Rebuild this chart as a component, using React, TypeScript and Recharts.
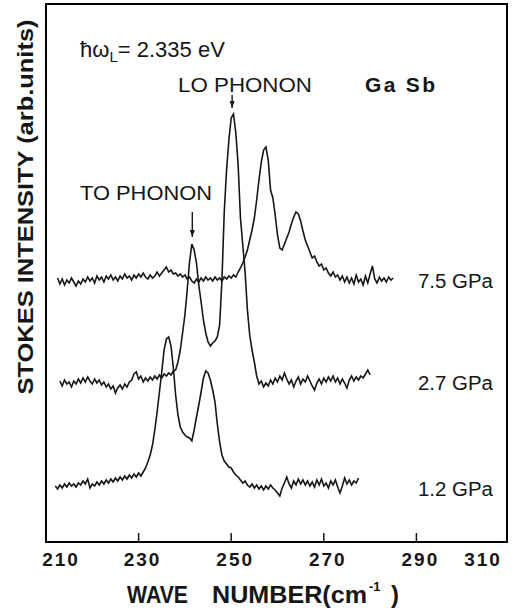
import { LineChart, Line, XAxis, YAxis, ReferenceLine } from "recharts";

// Stokes Raman spectra of GaSb at three pressures (arb. units, traces offset)
const step = 0.5;

const start75 = 212.5;
const intensity75 = [
  264, 258, 263, 257, 262, 259, 264, 260, 256, 261, 258, 263, 260, 265, 261, 264, 259, 266, 262, 265,
  260, 266, 263, 267, 262, 265, 261, 266, 263, 268, 264, 266, 262, 267, 264, 268, 265, 269, 265, 263,
  267, 264, 266, 270, 266, 269, 272, 275, 270, 272, 268, 269, 266, 268, 265, 267, 263, 265, 261, 259,
  263, 260, 264, 261, 265, 262, 264, 261, 265, 262, 264, 261, 265, 263, 266, 264, 267, 265, 270, 274,
  279, 285, 292, 302, 312, 324, 342, 362, 380, 392, 395, 382, 352, 344, 327, 307, 294, 292, 298, 304,
  310, 318, 325, 330, 328, 321, 311, 302, 296, 290, 284, 286, 280, 276, 278, 272, 274, 269, 266, 270,
  265, 267, 262, 266, 260, 265, 259, 264, 258, 267, 260, 263, 257, 266, 259, 268, 276, 263, 259, 265,
  261, 264, 260, 265, 262, 264,
];

const start27 = 213;
const intensity27 = [
  161, 156, 162, 158, 160, 155, 161, 158, 163, 159, 164, 160, 165, 161, 158, 163, 159, 162, 157, 160,
  155, 158, 153, 156, 149, 154, 157, 153, 158, 155, 160, 162, 168, 170, 163, 166, 160, 164, 161, 165,
  162, 166, 163, 167, 164, 168, 166, 169, 167, 171, 172, 180, 192, 209, 227, 252, 280, 298, 292, 279,
  257, 240, 222, 209, 200, 196, 199, 201, 205, 217, 262, 330, 372, 402, 424, 428, 409, 377, 324, 297,
  270, 232, 207, 192, 180, 166, 158, 161, 155, 159, 156, 162, 158, 164, 160, 166, 162, 169, 163, 158,
  162, 155, 161, 165, 158, 163, 160, 166, 161, 156, 152, 159, 163, 158, 164, 160, 165, 161, 166, 160,
  164, 158, 163, 159, 154, 162, 166, 161, 165, 162, 166, 164, 168, 172, 167,
];

const start12 = 212;
const intensity12 = [
  56, 53, 57, 54, 58, 55, 59, 56, 58, 55, 59, 57, 61, 58, 63, 54, 58, 56, 60, 57,
  61, 58, 62, 59, 63, 60, 64, 61, 65, 62, 66, 63, 67, 64, 68, 65, 69, 66, 70, 74,
  80, 87, 97, 112, 130, 150, 170, 192, 203, 205, 196, 174, 147, 127, 115, 110, 107, 105, 104, 101,
  112, 125, 137, 150, 164, 171, 169, 162, 152, 140, 118, 100, 87, 81, 78, 75, 74, 70, 67, 65,
  62, 59, 61, 57, 55, 58, 54, 57, 53, 56, 52, 56, 53, 57, 54, 52, 49, 46, 54, 59,
  65, 58, 54, 61, 57, 63, 58, 62, 57, 61, 56, 60, 55, 62, 57, 63, 56, 59, 54, 61,
  57, 62, 55, 49, 56, 64, 58, 62, 57, 61, 59, 64,
];

const xTicks = [210, 230, 250, 270, 290, 310];
const pressureLabels = ["7.5 GPa", "2.7 GPa", "1.2 GPa"];

// phonon markers: [wave number, arrow top, arrow tip]
const toArrow = [241.6, 330, 305];
const loArrow = [250.2, 447, 434];

const toSeries = (start: number, values: number[]) =>
  values.map((v, i) => ({ w: start + i * step, v }));

const data75 = toSeries(start75, intensity75);
const data27 = toSeries(start27, intensity27);
const data12 = toSeries(start12, intensity12);

const font = "'Liberation Sans', Arial, sans-serif";
const ink = "#161616";

const WaveTick = (props: any) => {
  const { x, y, payload } = props;
  const v = payload.value;
  const dx = v === 210 ? 15 : v === 310 ? -18 : 4;
  return (
    <g>
      {v !== 210 && v !== 310 && (
        <line x1={x} y1={y} x2={x} y2={y - 9} stroke={ink} strokeWidth={1.5} />
      )}
      <text
        x={x + dx}
        y={y + 24}
        textAnchor="middle"
        fontSize={19}
        fontFamily={font}
        fontWeight={600}
        letterSpacing={2}
        fill={ink}
      >
        {v}
      </text>
    </g>
  );
};

const Arrow = (props: any) => {
  const { x1, y1, x2, y2 } = props;
  return (
    <g>
      <line x1={x1} y1={y1} x2={x2} y2={y2} stroke={ink} strokeWidth={1.4} />
      <polygon points={`${x2 - 2.5},${y2 - 7} ${x2 + 2.5},${y2 - 7} ${x2},${y2}`} fill={ink} />
    </g>
  );
};

export default function App() {
  return (
    <div style={{ position: "absolute", left: 0, top: 0, width: 513, height: 613, background: "#fff" }}>
      <LineChart width={513} height={613} margin={{ top: 4, right: 4, left: 46, bottom: 31 }}>
        <XAxis
          type="number"
          dataKey="w"
          domain={[210, 310]}
          ticks={xTicks}
          allowDataOverflow
          height={40}
          tickSize={0}
          tickMargin={0}
          axisLine={false}
          tickLine={false}
          tick={<WaveTick />}
        />
        <YAxis type="number" dataKey="v" domain={[0, 538]} hide allowDataOverflow />
        <Line data={data75} dataKey="v" type="linear" stroke={ink} strokeWidth={1.6} dot={false} isAnimationActive={false} />
        <Line data={data27} dataKey="v" type="linear" stroke={ink} strokeWidth={1.6} dot={false} isAnimationActive={false} />
        <Line data={data12} dataKey="v" type="linear" stroke={ink} strokeWidth={1.6} dot={false} isAnimationActive={false} />
        <ReferenceLine
          segment={[{ x: toArrow[0], y: toArrow[1] }, { x: toArrow[0], y: toArrow[2] }]}
          shape={<Arrow />}
        />
        <ReferenceLine
          segment={[{ x: loArrow[0], y: loArrow[1] }, { x: loArrow[0], y: loArrow[2] }]}
          shape={<Arrow />}
        />
      </LineChart>
      <svg
        width={513}
        height={613}
        style={{ position: "absolute", left: 0, top: 0, pointerEvents: "none" }}
        fontFamily={font}
        fill={ink}
      >
        <g stroke="#000" strokeWidth={2} strokeLinecap="square">
          <line x1={46} y1={4} x2={507} y2={4} />
          <line x1={507} y1={4} x2={507} y2={542} />
          <line x1={46} y1={542} x2={507} y2={542} />
          <line x1={46} y1={4} x2={46} y2={542} />
        </g>
        <text x={80} y={57} fontSize={22}>
          ħω<tspan fontSize={15} dy={5}>L</tspan>
          <tspan dy={-5}>= 2.335 eV</tspan>
        </text>
        <text x={178} y={92} fontSize={20} textLength={134} lengthAdjust="spacingAndGlyphs">LO PHONON</text>
        <text x={365} y={92} fontSize={21} fontWeight={700} textLength={70} lengthAdjust="spacing">Ga Sb</text>
        <text x={80} y={200} fontSize={20} textLength={132} lengthAdjust="spacingAndGlyphs">TO PHONON</text>
        <text x={418} y={288} fontSize={20} textLength={75} lengthAdjust="spacingAndGlyphs">{pressureLabels[0]}</text>
        <text x={418} y={390} fontSize={20} textLength={75} lengthAdjust="spacingAndGlyphs">{pressureLabels[1]}</text>
        <text x={418} y={496} fontSize={20} textLength={75} lengthAdjust="spacingAndGlyphs">{pressureLabels[2]}</text>
        <text x={127} y={603} fontSize={24} fontWeight={700} textLength={61} lengthAdjust="spacingAndGlyphs">WAVE</text>
        <text x={212} y={603} fontSize={24} fontWeight={700} textLength={155} lengthAdjust="spacingAndGlyphs">NUMBER(cm</text>
        <text x={369} y={591} fontSize={13} fontWeight={700}>-1</text>
        <text x={391} y={603} fontSize={24} fontWeight={700}>)</text>
        <text
          transform="translate(33,207) rotate(-90)"
          textAnchor="middle"
          fontSize={22}
          fontWeight={700}
          textLength={375}
          lengthAdjust="spacingAndGlyphs"
        >
          STOKES  INTENSITY  (arb.units)
        </text>
      </svg>
    </div>
  );
}
